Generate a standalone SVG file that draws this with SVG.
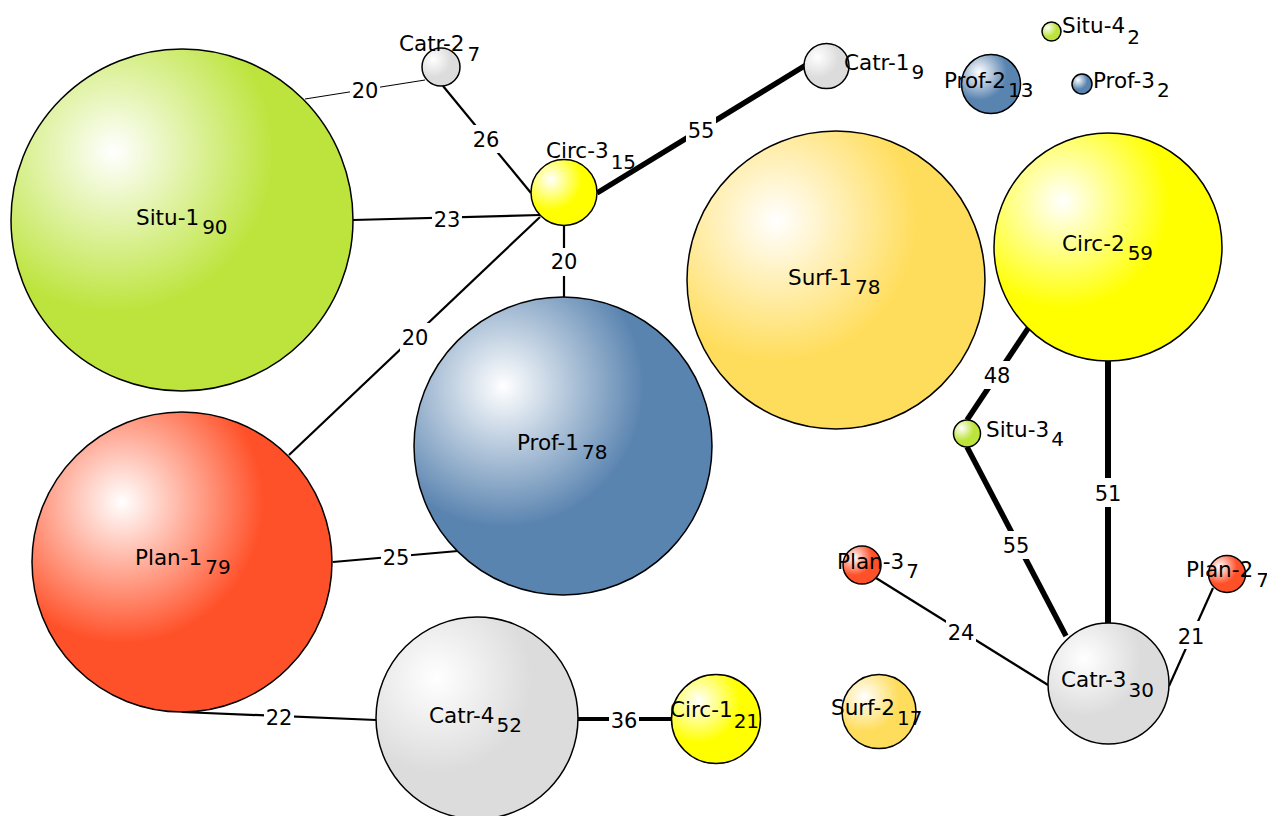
<svg xmlns="http://www.w3.org/2000/svg" width="1267" height="816" viewBox="0 0 1267 816">
<style>
.nd{stroke:#000;stroke-width:1.5}
.lb{font-family:"DejaVu Sans",Verdana,sans-serif;font-size:21.5px;fill:#000}
.sb{font-size:20px}
.e{stroke:#000;fill:none}
.el{font-family:"DejaVu Sans",Verdana,sans-serif;font-size:21px;fill:#000;text-anchor:middle}
.bg{fill:#fff}
</style>
<defs>
<radialGradient id="gGreen" cx="0.3" cy="0.3" r="0.47"><stop offset="0" stop-color="#fff"/><stop offset="1" stop-color="#bce43c"/></radialGradient>
<radialGradient id="gRed" cx="0.3" cy="0.3" r="0.47"><stop offset="0" stop-color="#fff"/><stop offset="1" stop-color="#ff5129"/></radialGradient>
<radialGradient id="gBlue" cx="0.3" cy="0.3" r="0.47"><stop offset="0" stop-color="#fff"/><stop offset="1" stop-color="#5a84b0"/></radialGradient>
<radialGradient id="gSurf" cx="0.3" cy="0.3" r="0.47"><stop offset="0" stop-color="#fff"/><stop offset="1" stop-color="#ffdd5c"/></radialGradient>
<radialGradient id="gYel" cx="0.3" cy="0.3" r="0.47"><stop offset="0" stop-color="#fff"/><stop offset="1" stop-color="#ffff00"/></radialGradient>
<radialGradient id="gGray" cx="0.3" cy="0.3" r="0.47"><stop offset="0" stop-color="#fff"/><stop offset="1" stop-color="#dcdcdc"/></radialGradient>
</defs>
<rect width="1267" height="816" fill="#fff"/>
<g id="connectors">
<line class="e" x1="305" y1="99" x2="425" y2="80" stroke-width="1"/>
<line class="e" x1="443" y1="86" x2="531" y2="193" stroke-width="2.2"/>
<line class="e" x1="353" y1="220" x2="540" y2="215" stroke-width="2.2"/>
<line class="e" x1="540" y1="217" x2="289" y2="455" stroke-width="2.2"/>
<line class="e" x1="564" y1="226" x2="564" y2="297" stroke-width="2.2"/>
<line class="e" x1="597" y1="193" x2="806" y2="65" stroke-width="5.5"/>
<line class="e" x1="333" y1="562" x2="458" y2="551" stroke-width="2.2"/>
<line class="e" x1="182" y1="712" x2="376" y2="720" stroke-width="2.2"/>
<line class="e" x1="578" y1="719" x2="671" y2="719" stroke-width="4"/>
<line class="e" x1="1029" y1="327" x2="967" y2="420" stroke-width="5.5"/>
<line class="e" x1="967" y1="447" x2="1066" y2="636" stroke-width="5.5"/>
<line class="e" x1="1108" y1="361" x2="1108" y2="624" stroke-width="6"/>
<line class="e" x1="876" y1="578" x2="1048" y2="685" stroke-width="2.2"/>
<line class="e" x1="1213" y1="588" x2="1169" y2="686" stroke-width="2.2"/>
<rect class="bg" x="350" y="76" width="30" height="28"/><text class="el" x="365" y="98">20</text>
<rect class="bg" x="471" y="125" width="30" height="28"/><text class="el" x="486" y="147">26</text>
<rect class="bg" x="432" y="205" width="30" height="28"/><text class="el" x="447" y="227">23</text>
<rect class="bg" x="400" y="323" width="30" height="28"/><text class="el" x="415" y="345">20</text>
<rect class="bg" x="549" y="248" width="30" height="28"/><text class="el" x="564" y="269">20</text>
<rect class="bg" x="686" y="116" width="30" height="28"/><text class="el" x="701" y="138">55</text>
<rect class="bg" x="381" y="543" width="30" height="28"/><text class="el" x="396" y="565">25</text>
<rect class="bg" x="264" y="703" width="30" height="28"/><text class="el" x="279" y="725">22</text>
<rect class="bg" x="609" y="706" width="30" height="28"/><text class="el" x="624" y="728">36</text>
<rect class="bg" x="982" y="361" width="30" height="28"/><text class="el" x="997" y="383">48</text>
<rect class="bg" x="1001" y="531" width="30" height="28"/><text class="el" x="1016" y="553">55</text>
<rect class="bg" x="1093" y="478" width="30" height="29"/><text class="el" x="1108" y="501">51</text>
<rect class="bg" x="946" y="618" width="30" height="28"/><text class="el" x="961" y="640">24</text>
<rect class="bg" x="1176" y="621" width="30" height="28"/><text class="el" x="1191" y="644">21</text>
</g>
<g id="node-situ-1"><circle class="nd" cx="182" cy="220" r="171" fill="url(#gGreen)"/><text class="lb" x="136" y="225">Situ-1<tspan class="sb" dx="3" dy="9">90</tspan></text></g>
<g id="node-plan-1"><circle class="nd" cx="182" cy="562" r="150" fill="url(#gRed)"/><text class="lb" x="135" y="565">Plan-1<tspan class="sb" dx="3" dy="9">79</tspan></text></g>
<g id="node-prof-1"><circle class="nd" cx="563" cy="446" r="149" fill="url(#gBlue)"/><text class="lb" x="517" y="450">Prof-1<tspan class="sb" dx="3" dy="9">78</tspan></text></g>
<g id="node-surf-1"><circle class="nd" cx="836" cy="280" r="149" fill="url(#gSurf)"/><text class="lb" x="788" y="285">Surf-1<tspan class="sb" dx="3" dy="9">78</tspan></text></g>
<g id="node-circ-2"><circle class="nd" cx="1108" cy="247" r="114" fill="url(#gYel)"/><text class="lb" x="1062" y="251">Circ-2<tspan class="sb" dx="3" dy="9">59</tspan></text></g>
<g id="node-catr-4"><circle class="nd" cx="477" cy="718" r="101" fill="url(#gGray)"/><text class="lb" x="429" y="723">Catr-4<tspan class="sb" dx="2" dy="9">52</tspan></text></g>
<g id="node-catr-3"><circle class="nd" cx="1108.5" cy="683.5" r="60.5" fill="url(#gGray)"/><text class="lb" x="1061" y="687">Catr-3<tspan class="sb" dx="2" dy="10">30</tspan></text></g>
<g id="node-circ-1"><circle class="nd" cx="716" cy="719" r="44.5" fill="url(#gYel)"/><text class="lb" x="670" y="717">Circ-1<tspan class="sb" dx="1" dy="11">21</tspan></text></g>
<g id="node-surf-2"><circle class="nd" cx="879" cy="711.5" r="37" fill="url(#gSurf)"/><text class="lb" x="831" y="715">Surf-2<tspan class="sb" dx="2" dy="10">17</tspan></text></g>
<g id="node-circ-3"><circle class="nd" cx="564" cy="192.5" r="33" fill="url(#gYel)"/><text class="lb" x="546" y="158">Circ-3<tspan class="sb" dx="2" dy="11">15</tspan></text></g>
<g id="node-prof-2"><circle class="nd" cx="991" cy="84" r="29.5" fill="url(#gBlue)"/><text class="lb" x="944" y="88">Prof-2<tspan class="sb" dx="2" dy="9">13</tspan></text></g>
<g id="node-catr-1"><circle class="nd" cx="826.5" cy="66" r="22.5" fill="url(#gGray)"/><text class="lb" x="844" y="70">Catr-1<tspan class="sb" dx="2" dy="9">9</tspan></text></g>
<g id="node-catr-2"><circle class="nd" cx="441" cy="67" r="19" fill="url(#gGray)"/><text class="lb" x="399" y="51">Catr-2<tspan class="sb" dx="3" dy="10">7</tspan></text></g>
<g id="node-plan-3"><circle class="nd" cx="862" cy="565" r="19" fill="url(#gRed)"/><text class="lb" x="837" y="569">Plan-3<tspan class="sb" dx="2" dy="9">7</tspan></text></g>
<g id="node-plan-2"><circle class="nd" cx="1227" cy="574" r="18.5" fill="url(#gRed)"/><text class="lb" x="1186" y="577">Plan-2<tspan class="sb" dx="3" dy="10">7</tspan></text></g>
<g id="node-situ-3"><circle class="nd" cx="967" cy="433.5" r="13.5" fill="url(#gGreen)"/><text class="lb" x="986" y="437">Situ-3<tspan class="sb" dx="2" dy="9">4</tspan></text></g>
<g id="node-situ-4"><circle class="nd" cx="1051.5" cy="31.5" r="9.5" fill="url(#gGreen)"/><text class="lb" x="1062" y="33">Situ-4<tspan class="sb" dx="2" dy="11">2</tspan></text></g>
<g id="node-prof-3"><circle class="nd" cx="1082" cy="84" r="10" fill="url(#gBlue)"/><text class="lb" x="1093" y="88">Prof-3<tspan class="sb" dx="2" dy="9">2</tspan></text></g>
</svg>
